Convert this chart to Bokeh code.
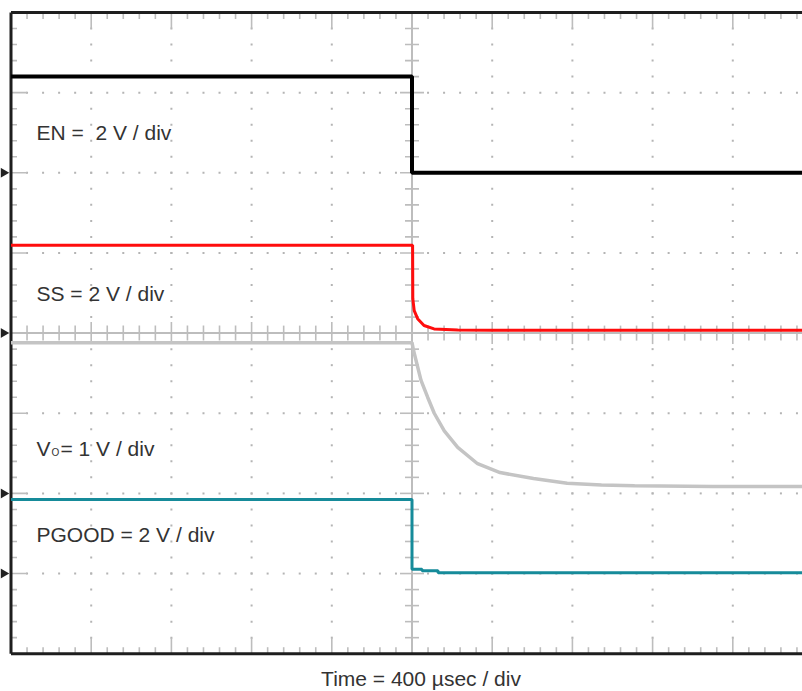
import numpy as np
from bokeh.plotting import figure
from bokeh.models import Range1d, Label
from bokeh.embed import file_html
from bokeh.resources import INLINE

# ---------------- data (time in µs, signals in V) ----------------
en_t = [-2000, 0, 0, 1950]
en_v = [2.40, 2.40, 0.0, 0.0]

ss_t = [-2000, 3, 4, 11, 28, 60, 110, 228, 400, 1950]
ss_v = [2.19, 2.19, 0.86, 0.56, 0.36, 0.19, 0.105, 0.08, 0.07, 0.07]

vo_t = [-2000, 0, 8, 45, 78, 111, 161, 228, 327, 439, 606, 774, 945, 1110, 1500, 1950]
vo_v = [1.88, 1.88, 1.78, 1.41, 1.20, 1.00, 0.78, 0.575, 0.37, 0.26, 0.185, 0.126, 0.106, 0.094, 0.085, 0.085]

pg_t = [-2000, 0, 0, 50, 50, 130, 130, 1950]
pg_v = [1.85, 1.85, 0.11, 0.11, 0.07, 0.07, 0.02, 0.02]

# channel settings: (reference division, volts per division)
channels = {"en": (2, 2.0), "ss": (0, 2.0), "vo": (-2, 1.0), "pg": (-3, 2.0)}
labels = ["EN = \u00a02 V / div", "SS = 2 V / div", "= 1 V / div", "PGOOD = 2 V / div"]
time_label = "Time = 400 \u00b5sec / div"

TDIV = 400.0        # µs per division
NX, NY = 10, 8      # divisions
T0 = -NX / 2 * TDIV

W, H = 802, 691
PXX = TDIV / 80.2   # µs per pixel
PXY = 1 / 80.15     # div per pixel
LEFT_PX, TOP_PX = 10.5, 12.0
TXT_SHIFT = 8.5 * PXY

GRID = "#bdbdbd"
TEXT = "#333333"
FONT = "Liberation Sans"

x_start = T0 - LEFT_PX * PXX
y_end = NY / 2 + TOP_PX * PXY
p = figure(width=W, height=H,
           x_range=Range1d(x_start, x_start + W * PXX),
           y_range=Range1d(y_end - H * PXY, y_end),
           x_axis_type=None, y_axis_type=None,
           output_backend="svg", toolbar_location=None,
           min_border=0)
p.outline_line_color = None
p.background_fill_color = "white"
p.border_fill_color = "white"

yr = p.y_range
for name, (ref, vpd) in channels.items():
    p.extra_y_ranges[name] = Range1d((yr.start - ref) * vpd, (yr.end - ref) * vpd)

# ---------------- graticule ----------------
minor_x = T0 + TDIV / 5 * np.arange(1, NX * 5)
minor_y = -NY / 2 + 0.2 * np.arange(1, NY * 5)
major_x = [T0 + TDIV * k for k in range(1, NX) if k != NX // 2]
major_y = [k for k in range(-NY // 2 + 1, NY // 2) if k != 0]

dx, dy = [], []
for xv in major_x:
    dx += [xv] * len(minor_y); dy += list(minor_y)
for yv in major_y:
    dx += list(minor_x); dy += [yv] * len(minor_x)
p.scatter(dx, dy, marker="square", size=2, color="#b4b4b4", line_color=None)

# center cross
p.segment([0], [-NY / 2], [0], [NY / 2], line_color=GRID, line_width=2)
p.segment([T0], [0], [T0 + NX * TDIV], [0], line_color=GRID, line_width=2)

def is_major(v, step):
    return abs(v / step - round(v / step)) < 1e-6

x0s, y0s, x1s, y1s = [], [], [], []
for yv in minor_y:                      # ticks on center vertical line
    h = (12 if is_major(yv, 1) else 7) * PXX
    x0s.append(-h); x1s.append(h); y0s.append(yv); y1s.append(yv)
for xv in minor_x:                      # ticks on center horizontal line
    h = (11 if is_major(xv, TDIV) else 7.5) * PXY
    x0s.append(xv); x1s.append(xv); y0s.append(-h); y1s.append(h)
for xv in minor_x:                      # ticks on top / bottom borders
    l = (16 if is_major(xv, TDIV) else 6.5) * PXY
    x0s += [xv, xv]; x1s += [xv, xv]
    y0s += [NY / 2, -NY / 2]; y1s += [NY / 2 - l, -NY / 2 + l]
for yv in minor_y:                      # ticks on left border
    l = (16 if is_major(yv, 1) else 6) * PXX
    x0s.append(T0); x1s.append(T0 + l); y0s.append(yv); y1s.append(yv)
p.segment(x0s, y0s, x1s, y1s, line_color=GRID, line_width=1.6)

# frame border (left, top, bottom)
p.segment([T0, T0, T0], [-NY / 2, NY / 2, -NY / 2],
          [T0, T0 + NX * TDIV, T0 + NX * TDIV], [NY / 2, NY / 2, -NY / 2],
          line_color="#1e1e1e", line_width=3)

# reference-level markers
refs = [ref for ref, _ in channels.values()]
p.scatter([T0 - 7.5 * PXX] * len(refs), refs, marker="triangle", angle=-np.pi / 2,
          size=10, color="#222222", line_color=None)

# ---------------- traces ----------------
p.line(vo_t, vo_v, y_range_name="vo", line_color="#c4c4c4", line_width=3.5)
p.line(en_t, en_v, y_range_name="en", line_color="#000000", line_width=4)
p.line(ss_t, ss_v, y_range_name="ss", line_color="#ff0d0d", line_width=3)
p.line(pg_t, pg_v, y_range_name="pg", line_color="#168b9a", line_width=3)

# ---------------- texts ----------------
def lab(x_off, y, text, size="21px"):
    p.add_layout(Label(x=T0, y=y + TXT_SHIFT, x_offset=x_off, text=text, text_font=FONT,
                       text_font_size=size, text_color=TEXT, text_baseline="alphabetic"))

lab(25.5, 2.393, labels[0])
lab(25.5, 0.386, labels[1])
lab(25.5, -1.552, "V")
lab(40.5, -1.59, "O", size="10px")
lab(49.5, -1.552, labels[2])
lab(25.5, -2.613, labels[3])

p.add_layout(Label(x=0, y=-4.418 + TXT_SHIFT, x_offset=9, text=time_label, text_font=FONT,
                   text_font_size="21px", text_color=TEXT, text_align="center",
                   text_baseline="alphabetic"))

open("out.html", "w").write(file_html(p, INLINE))
